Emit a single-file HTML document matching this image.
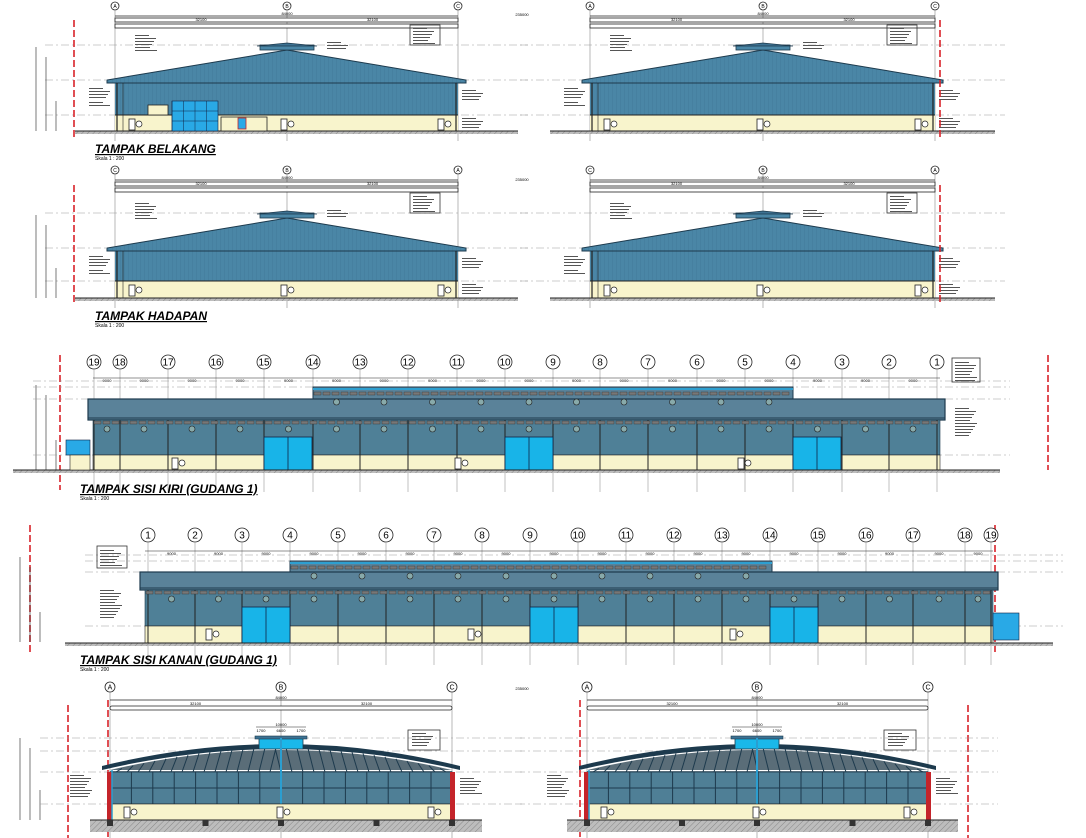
<!DOCTYPE html>
<html><head><meta charset="utf-8"><style>
html,body{margin:0;padding:0;background:#fff;width:1086px;height:838px;overflow:hidden}
svg{display:block}
text{font-family:"Liberation Sans",sans-serif}
</style></head><body>
<svg id="s" width="1086" height="838" viewBox="0 0 1086 838" xmlns="http://www.w3.org/2000/svg">
<defs>
<pattern id="hat" width="4" height="4" patternUnits="userSpaceOnUse" patternTransform="rotate(45)"><rect width="4" height="4" fill="#bdbdbd"/><line x1="0" y1="0" x2="0" y2="4" stroke="#888" stroke-width="1"/></pattern>
<pattern id="vs" width="4" height="10" patternUnits="userSpaceOnUse"><rect width="4" height="10" fill="#4a86a6"/><line x1="0" y1="0" x2="0" y2="10" stroke="#3d7292" stroke-width="0.6"/></pattern>
</defs>
<g id="g"></g>
<text x="95" y="153" font-size="12" font-weight="bold" font-style="italic" text-decoration="underline">TAMPAK BELAKANG</text>
<text x="95" y="160" font-size="5">Skala 1 : 200</text>
<text x="95" y="320" font-size="12" font-weight="bold" font-style="italic" text-decoration="underline">TAMPAK HADAPAN</text>
<text x="95" y="327" font-size="5">Skala 1 : 200</text>
<text x="80" y="493" font-size="12" font-weight="bold" font-style="italic" text-decoration="underline">TAMPAK SISI KIRI (GUDANG 1)</text>
<text x="80" y="500" font-size="5">Skala 1 : 200</text>
<text x="80" y="664" font-size="12" font-weight="bold" font-style="italic" text-decoration="underline">TAMPAK SISI KANAN (GUDANG 1)</text>
<text x="80" y="671" font-size="5">Skala 1 : 200</text>
</svg>
<script>
var g=document.getElementById('g'),NS='http://www.w3.org/2000/svg',h='';
function r(x,y,w,hh,f,st,sw){h+='<rect x="'+x+'" y="'+y+'" width="'+w+'" height="'+hh+'" fill="'+f+'"'+(st?' stroke="'+st+'" stroke-width="'+(sw||1)+'"':'')+'/>';}
function l(x1,y1,x2,y2,c,w,d){h+='<line x1="'+x1+'" y1="'+y1+'" x2="'+x2+'" y2="'+y2+'" stroke="'+c+'" stroke-width="'+(w||0.6)+'"'+(d?' stroke-dasharray="'+d+'"':'')+'/>';}
function c(x,y,rr,t,fs){h+='<circle cx="'+x+'" cy="'+y+'" r="'+rr+'" fill="#fff" stroke="#222" stroke-width="0.8"/><text x="'+x+'" y="'+(y+fs*0.36)+'" font-size="'+fs+'" text-anchor="middle">'+t+'</text>';}
function t(x,y,s,fs,a){h+='<text x="'+x+'" y="'+y+'" font-size="'+(fs||4)+'"'+(a?' text-anchor="'+a+'"':'')+'>'+s+'</text>';}
function p(pts,f,st,sw){h+='<polygon points="'+pts+'" fill="'+f+'"'+(st?' stroke="'+st+'" stroke-width="'+(sw||1)+'"':'')+'/>';}
function note(x,y,n){for(var i=0;i<n;i++)r(x,y+i*3,14+((i*7)%9),1,'#555');}
function door(x,y){r(x,y,6,11,'#fff','#222',0.8);h+='<circle cx="'+(x+10)+'" cy="'+(y+5)+'" r="3" fill="#fff" stroke="#222" stroke-width="0.7"/>';}
// gable elevation
function gable(x0,x1,xm,yr,ye,yc,yg,labs,top,red){
 var ym=top;
 c(x0,ym,4,labs[0],5);c(xm,ym,4,labs[1],5);c(x1,ym,4,labs[2],5);
 l(x0,ym+4,x0,yg+10,'#888',0.6);l(xm,ym+4,xm,yg+10,'#888',0.6);l(x1,ym+4,x1,yg+10,'#888',0.6);
 l(x0,ym+10,x1,ym+10,'#222',0.8);t(xm,ym+9,'84000',4,'middle');
 r(x0,ym+12,x1-x0,4,'#fff','#222',0.8);t((x0+xm)/2,ym+15,'32100',4,'middle');t((xm+x1)/2,ym+15,'32100',4,'middle');
 r(x0,ym+18,x1-x0,4,'#fff','#222',0.8);
 [yr-5,ye,yc].forEach(function(y){l(x0-70,y,x1+70,y,'#999',0.6,'8 3 2 3');});
 r(x0,ye,x1-x0,yc-ye,'url(#vs)');
 p((x0-8)+','+(ye+3)+' '+(x0-8)+','+ye+' '+xm+','+yr+' '+(x1+8)+','+ye+' '+(x1+8)+','+(ye+3),'url(#vs)','#1d3a4d',1);
 p(x0+','+(ye+3)+' '+xm+','+(yr+3)+' '+x1+','+(ye+3),'url(#vs)');
 l(x0-8,ye+3,x1+8,ye+3,'#1d3a4d',1);
 r(xm-27,yr-5,54,5,'#4a86a6','#1d3a4d',0.8);p((xm-30)+','+(yr-4)+' '+xm+','+(yr-7)+' '+(xm+30)+','+(yr-4),'#3d7292','#1d3a4d',0.8);
 r(x0,yc,x1-x0,yg-yc,'#f8f4cc');l(x0,yc,x1,yc,'#222',1);
 l(x0+2,ye+3,x0+2,yg,'#222',1.2);l(x1-2,ye+3,x1-2,yg,'#222',1.2);l(x0+8,ye+3,x0+8,yg,'#222',0.6);
 r(x0-40,yg,x1-x0+100,3,'url(#hat)');l(x0-40,yg,x1+60,yg,'#222',1);
 door(x0+14,yc+4);door(xm-6,yc+4);door(x1-20,yc+4);
 note(xm+40,yr-8,3);note(x0+20,yr-15,6);note(x1-45,yr-22,6);r(x1-48,yr-25,30,20,'none','#333',0.8);
 note(x1+4,ye+10,4);note(x1+4,yc+3,4);note(x0-26,ye+8,4);note(x0-26,ye+22,2);
}
gable(115,458,287,50,80,115,131,['A','B','C'],6);
gable(590,935,763,50,80,115,131,['A','B','C'],6);
gable(115,458,287,218,248,281,298,['C','B','A'],170);
gable(590,935,763,218,248,281,298,['C','B','A'],170);
// extras row1 windows
r(172,101,46,30,'#29a9e6','#124',0.6);for(var i=0;i<4;i++)l(172+i*11.5,101,172+i*11.5,131,'#124',0.5);l(172,111,218,111,'#124',0.5);l(172,121,218,121,'#124',0.5);
r(148,105,20,10,'#f8f4cc','#222',0.8);r(221,117,46,14,'#f8f4cc','#222',0.8);r(238,118,8,11,'#29a9e6','#c22',0.8);
// red dashed & dims rows
[[74,20,140],[940,20,140],[74,185,305],[940,185,305],[60,355,490],[1048,355,470],[30,525,655],[995,525,655],[68,705,838],[108,700,838],[580,700,838],[968,705,838]].forEach(function(a){l(a[0],a[1],a[0],a[2],'#d8232a',1.6,'7 3');});
function dimcol(x,y0,y1){l(x,y0,x,y1,'#222',0.6);l(x+10,y0+10,x+10,y1,'#222',0.6);l(x+20,y1-30,x+20,y1,'#222',0.6);t(x-2,(y0+y1)/2,'',3);}
dimcol(36,47,131);dimcol(36,215,298);dimcol(36,385,470);dimcol(20,557,642);dimcol(20,738,820);
// side elevation
function side(x0,x1,nums,xs,ty,ru0,ru1,yu,yb,yw,yc,yg,doors,flip){
 for(var i=0;i<nums.length;i++){c(xs[i],ty,7,nums[i],10);l(xs[i],ty+7,xs[i],yg+22,'#999',0.6);}
 l(x0,ty+16,x1,ty+16,'#222',0.6);
 for(i=0;i<nums.length-1;i++)t((xs[i]+xs[i+1])/2,ty+20,'9000',4,'middle');
 [yu-6,yu,yb,yc].forEach(function(y){l(x0-60,y,x1+70,y,'#999',0.6,'8 3 2 3');});
 r(ru0,yu,ru1-ru0,yb-yu,'#5a8299','#1d3a4d',1);r(ru0,yu+1,ru1-ru0,2,'#2e9fd0');
 r(x0-5,yb,x1-x0+10,yw-yb,'#5a8299','#1d3a4d',1.2);l(x0-5,yw-2,x1+5,yw-2,'#1d3a4d',1);
 r(x0,yw,x1-x0,yc-yw,'#4f8097','#1d3a4d',0.6);
 r(x0,yc,x1-x0,yg-yc,'#f8f4cc','#222',0.6);
 for(i=0;i<nums.length;i++){l(xs[i],yw,xs[i],yg,'#222',1);}
 for(var x=x0;x<x1-6;x+=9)r(x+1,yw+1,7,3,'#777','#333',0.4);
 for(x=ru0;x<ru1-6;x+=9)r(x+1,yu+5,7,3,'#777','#333',0.4);
 for(i=0;i<nums.length-1;i++){var xm=(xs[i]+xs[i+1])/2;h+='<circle cx="'+xm+'" cy="'+(yw+9)+'" r="3" fill="#8aa" stroke="#222" stroke-width="0.6"/>';if(xm>ru0&&xm<ru1)h+='<circle cx="'+xm+'" cy="'+(yu+15)+'" r="3" fill="#8aa" stroke="#222" stroke-width="0.6"/>';}
 doors.forEach(function(d){r(d,yw+17,48,yg-yw-17,'#18b4e8','#124',0.8);l(d+24,yw+17,d+24,yg,'#124',0.8);});
 r(x0-80,yg,x1-x0+140,3,'url(#hat)');l(x0-80,yg,x1+60,yg,'#222',1);
}
var xs1=[94,120,168,216,264,313,360,408,457,505,553,600,648,697,745,793,842,889,937],n1=[];
for(var i=19;i>=1;i--)n1.push(i);
side(93,940,n1,xs1,362,313,793,387,399,420,455,470,[264,505,793]);
r(66,440,24,15,'#29a9e6','#124',0.6);r(70,455,20,15,'#f8f4cc','#222',0.6);
for(var k=0;k<3;k++)door(172+k*283,458);
note(955,362,7);r(952,358,28,24,'none','#333',0.8);note(955,408,10);
var xs2=[148,195,242,290,338,386,434,482,530,578,626,674,722,770,818,866,913,965,991],n2=[];
for(i=1;i<=19;i++)n2.push(i);
side(145,993,n2,xs2,535,290,772,561,572,590,626,643,[242,530,770]);
r(993,613,26,27,'#29a9e6','#124',0.6);
for(k=0;k<3;k++)door(206+k*262,629);
note(100,550,6);r(97,546,30,22,'none','#333',0.8);note(100,590,10);
// row5 curved truss elevation
function truss(x0,x1,xm){
 c(x0,687,5,'A',7);c(xm,687,5,'B',7);c(x1,687,5,'C',7);
 l(x0,692,x0,838,'#888',0.6);l(xm,692,xm,838,'#888',0.6);l(x1,692,x1,838,'#888',0.6);
 l(x0,700,x1,700,'#222',0.8);t(xm,699,'84000',4,'middle');t((x0+xm)/2,705,'32100',4,'middle');t((xm+x1)/2,705,'32100',4,'middle');
 h+='<rect x="'+x0+'" y="706" width="'+(x1-x0)+'" height="4" rx="2" fill="#fff" stroke="#222" stroke-width="0.8"/>';
 [738,751,772,804].forEach(function(y){l(x0-70,y,x1+70,y,'#999',0.6,'8 3 2 3');});
 h+='<path d="M'+(x0-8)+' 766 Q'+xm+' 722 '+(x1+8)+' 766 L'+(x1+8)+' 770 Q'+xm+' 728 '+(x0-8)+' 770Z" fill="#1d3a4d"/>';
 h+='<path d="M'+x0+' 770 Q'+xm+' 730 '+x1+' 770Z" fill="#5a6d78"/>';
 for(var x=x0+6;x<x1;x+=11){var yy=770-32*(1-Math.pow((x-xm)/(xm-x0),2))*0.7;l(x,772,x+(x<xm?6:-6),yy,'#1d3a4d',1);}
 l(x0,772,x1,772,'#1d3a4d',1.4);
 r(x0,772,x1-x0,32,'#4f7f96','#1d3a4d',0.8);
 for(x=x0;x<=x1;x+=21.4)l(x,772,x,804,'#1d3a4d',1);l(x0,788,x1,788,'#1d3a4d',1);
 r(xm-22,738,44,11,'#1ab8ea','#1d3a4d',0.8);r(xm-26,736,52,3,'#3d7292','#1d3a4d',0.6);
 l(xm,738,xm,820,'#2b9ed0',2);
 l(xm-25,727,xm+25,727,'#222',0.6);t(xm,726,'10000',4,'middle');t(xm-20,732,'1700',4,'middle');t(xm,732,'6600',4,'middle');t(xm+20,732,'1700',4,'middle');
 r(x0,804,x1-x0,16,'#f8f4cc','#222',0.6);
 r(x0-3,772,5,48,'#c4242a');r(x1-2,772,5,48,'#c4242a');l(x0+2,770,x0+2,820,'#2b9ed0',1.5);
 r(x0-20,820,x1-x0+50,12,'url(#hat)');l(x0-20,820,x1+30,820,'#222',1);
 [x0,(x0+xm)/2+10,xm,(xm+x1)/2+10,x1].forEach(function(x){r(x-3,820,6,6,'#333');});
 door(x0+14,807);door(xm-4,807);door(x1-24,807);
 note(x1-40,733,5);r(x1-44,730,32,20,'none','#333',0.8);note(x1+8,778,6);note(x0-40,775,8);
}
truss(110,452,281);truss(587,928,757);
t(522,16,'235000',4,'middle');t(522,181,'235000',4,'middle');t(522,690,'235000',4,'middle');
g.innerHTML=h;
</script>
</body></html>
